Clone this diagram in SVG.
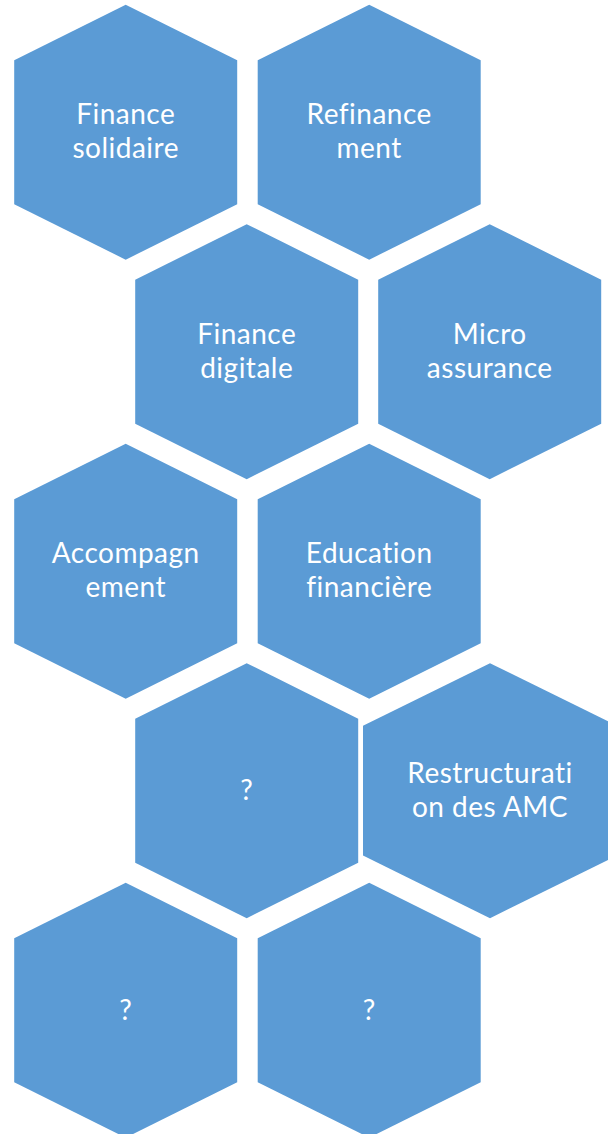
<svg xmlns="http://www.w3.org/2000/svg" width="608" height="1134" viewBox="0 0 608 1134">
<style>
.hex{fill:#5B9BD5;}
.lbl{fill:#FFFFFF;font-family:Lato,"Open Sans","DejaVu Sans",sans-serif;font-size:28px;letter-spacing:0.5px;font-variant-ligatures:none;font-feature-settings:"liga" 0,"clig" 0;text-anchor:middle;}
</style>
<defs>
<polygon id="hx" points="0,0 111.5,55.5 111.5,199.5 0,255 -111.5,199.5 -111.5,55.5"/>
</defs>
<rect width="608" height="1134" fill="#FFFFFF"/>
<g id="finance-solidaire" transform="translate(125.7,4.7)">
<use href="#hx" class="hex"/>
<text class="lbl"><tspan x="0" y="119.5">Finance</tspan><tspan x="0" y="153.5">solidaire</tspan></text>
</g>
<g id="refinancement" transform="translate(369.2,4.7)">
<use href="#hx" class="hex"/>
<text class="lbl"><tspan x="0" y="119.5">Refinance</tspan><tspan x="0" y="153.5">ment</tspan></text>
</g>
<g id="finance-digitale" transform="translate(246.7,224.2)">
<use href="#hx" class="hex"/>
<text class="lbl"><tspan x="0" y="119.5">Finance</tspan><tspan x="0" y="153.5">digitale</tspan></text>
</g>
<g id="micro-assurance" transform="translate(489.7,224.2)">
<use href="#hx" class="hex"/>
<text class="lbl"><tspan x="0" y="119.5">Micro</tspan><tspan x="0" y="153.5">assurance</tspan></text>
</g>
<g id="accompagnement" transform="translate(125.7,443.7)">
<use href="#hx" class="hex"/>
<text class="lbl"><tspan x="0" y="119.5">Accompagn</tspan><tspan x="0" y="153.5">ement</tspan></text>
</g>
<g id="education-financiere" transform="translate(369.2,443.7)">
<use href="#hx" class="hex"/>
<text class="lbl"><tspan x="0" y="119.5">Education</tspan><tspan x="0" y="153.5">financière</tspan></text>
</g>
<g id="unknown-1" transform="translate(246.7,663.2)">
<use href="#hx" class="hex"/>
<text class="lbl" x="0" y="137">?</text>
</g>
<g id="restructuration" transform="translate(490,663.2)">
<polygon class="hex" points="0,0 127,62.6 127,192.4 0,255 -127,192.4 -127,62.6"/>
<text class="lbl"><tspan x="0" y="119.5">Restructurati</tspan><tspan x="0" y="153.5">on des AMC</tspan></text>
</g>
<g id="unknown-2" transform="translate(125.7,882.7)">
<use href="#hx" class="hex"/>
<text class="lbl" x="0" y="137">?</text>
</g>
<g id="unknown-3" transform="translate(369.2,882.7)">
<use href="#hx" class="hex"/>
<text class="lbl" x="0" y="137">?</text>
</g>
<g id="connectors"/>
</svg>
